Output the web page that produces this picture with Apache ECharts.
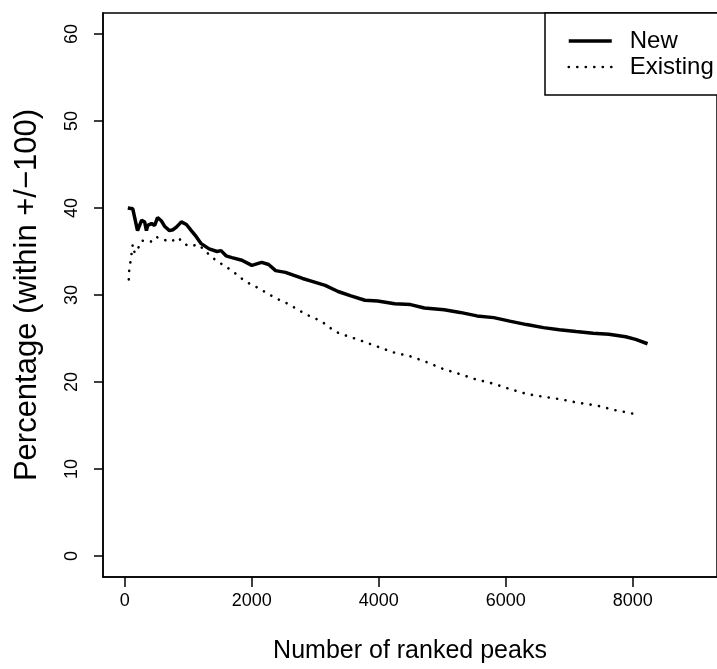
<!DOCTYPE html>
<html>
<head>
<meta charset="utf-8">
<script src="https://cdn.jsdelivr.net/npm/echarts@6/dist/echarts.min.js"></script>
<style>
html,body{margin:0;padding:0;background:#fff;}
#c{width:717px;height:669px;}
</style>
</head>
<body>
<div id="c"></div>
<script>
// ---- Data ----
var newPeaks = [47,125,200,265,312,340,360,420,470,515,578,625,703,760,812,890,970,1047,1125,1203,1328,1453,1515,1594,1687,1844,2000,2156,2265,2375,2531,2687,2800,2937,3156,3359,3562,3781,3984,4250,4500,4719,5031,5281,5547,5812,6062,6328,6594,6844,7109,7375,7625,7890,8047,8234];
var newPct   = [40.0,39.9,37.4,38.6,38.4,37.4,38.0,38.2,38.0,38.9,38.5,37.9,37.4,37.5,37.8,38.4,38.1,37.4,36.7,35.9,35.3,35.0,35.1,34.5,34.3,34.0,33.4,33.75,33.5,32.8,32.6,32.2,31.9,31.6,31.1,30.4,29.9,29.4,29.3,29.0,28.9,28.5,28.3,28.0,27.6,27.4,27.0,26.6,26.25,26.0,25.8,25.6,25.5,25.2,24.9,24.4];

var existPeaks = [62,70,94,110,125,156,203,266,406,484,594,719,844,922,1031,1156,1250,1359,1453,1687,1890,2125,2359,2594,2844,3094,3312,3437,3703,3969,4234,4500,4750,5016,5281,5531,5812,6062,6344,6609,6875,7156,7437,7703,7984,8109];
var existPct   = [31.8,33.1,34.0,35.0,35.8,34.8,35.3,36.25,36.1,36.7,36.4,36.1,36.6,35.9,35.6,35.8,35.2,34.4,33.9,32.8,31.6,30.7,29.7,28.9,27.8,27.0,25.8,25.45,24.8,24.1,23.4,22.95,22.3,21.5,20.9,20.3,19.8,19.2,18.6,18.3,18.0,17.6,17.3,16.8,16.4,16.1];

var xTicks = [0,2000,4000,6000,8000];
var yTicks = [0,10,20,30,40,50,60];
var seriesNames = ['New','Existing'];

function pairs(xs, ys){ return xs.map(function(x,i){ return [x, ys[i]]; }); }
function plain(v){ return String(v); }

var FONT = '"Liberation Sans", Arial, Helvetica, sans-serif';
var chart = echarts.init(document.getElementById('c'), null, {renderer:'canvas'});
chart.setOption({
  backgroundColor:'#fff',
  animation:false,
  grid:{left:103, top:13, right:-5, bottom:87, show:true, borderColor:'#000', borderWidth:1.5, containLabel:false},
  xAxis:{
    type:'value', min:-344, max:9328,
    name:'Number of ranked peaks', nameLocation:'middle', nameGap:62,
    nameTextStyle:{fontFamily:FONT, fontSize:25, color:'#000'},
    axisLine:{show:true, onZero:false, lineStyle:{color:'#000', width:1.5}},
    axisTick:{show:true, length:10, inside:false, customValues:xTicks, lineStyle:{color:'#000', width:1.5}},
    axisLabel:{customValues:xTicks, formatter:plain, margin:15, fontFamily:FONT, fontSize:18, color:'#000'},
    splitLine:{show:false}
  },
  yAxis:{
    type:'value', min:-2.4, max:62.4,
    name:'Percentage (within +/\u2212100)', nameLocation:'middle', nameGap:60,
    nameTextStyle:{fontFamily:FONT, fontSize:31, color:'#000'},
    axisLine:{show:true, onZero:false, lineStyle:{color:'#000', width:1.5}},
    axisTick:{show:true, length:9, customValues:yTicks, lineStyle:{color:'#000', width:1.5}},
    axisLabel:{customValues:yTicks, formatter:plain, rotate:90, margin:22, fontFamily:FONT, fontSize:18, color:'#000'},
    splitLine:{show:false}
  },
  legend:{
    orient:'vertical', left:545, top:13,
    data:[
      {name:seriesNames[0], lineStyle:{width:3.5, color:'#000'}},
      {name:seriesNames[1], lineStyle:{width:2.6, color:'#000'}}
    ],
    backgroundColor:'#fff',
    borderColor:'#000', borderWidth:1.5, borderRadius:0,
    padding:[16,40,16,22],
    itemWidth:43, itemHeight:14, itemGap:2,
    itemStyle:{color:'rgba(0,0,0,0)', borderWidth:0, opacity:0},
    textStyle:{fontFamily:FONT, fontSize:24, color:'#000', lineHeight:22, padding:[0,0,0,13]}
  },
  series:[
    {name:seriesNames[0], type:'line', data:pairs(newPeaks,newPct), showSymbol:false, symbol:'none',
     lineStyle:{color:'#000', width:3.5}, itemStyle:{color:'#000'}, smooth:false},
    {name:seriesNames[1], type:'line', data:pairs(existPeaks,existPct), showSymbol:false, symbol:'none',
     lineStyle:{color:'#000', width:2.6, type:[0.1,8.4], cap:'round'}, itemStyle:{color:'#000'}, smooth:false}
  ]
});
</script>
</body>
</html>
